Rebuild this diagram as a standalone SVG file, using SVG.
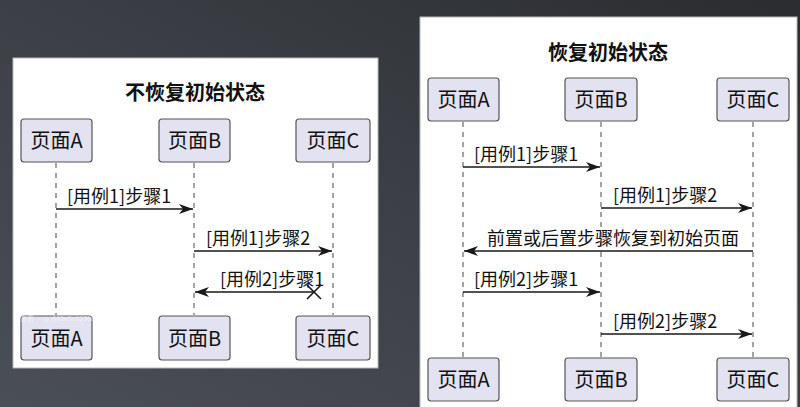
<svg xmlns="http://www.w3.org/2000/svg" width="800" height="407" viewBox="0 0 800 407">
<defs>
<linearGradient id="bg" x1="0" y1="1" x2="1" y2="0">
<stop offset="0" stop-color="#4a4e55"/>
<stop offset="0.5" stop-color="#3c4046"/>
<stop offset="1" stop-color="#2a2c2f"/>
</linearGradient>
<marker id="ah" viewBox="0 0 14 10" refX="14" refY="5" markerWidth="14" markerHeight="10" markerUnits="userSpaceOnUse" orient="auto-start-reverse">
<path d="M0,0 L14,5 L0,10 L4,5 Z" fill="#181818"/>
</marker>
<style>
.panel{fill:#ffffff;stroke:#b8b8b8;stroke-width:1}
.box{fill:#e2e2f0;stroke:#555;stroke-width:1.2}
.pt{font-family:"Noto Sans CJK SC","Noto Sans",sans-serif;font-size:20px;fill:#111;text-anchor:middle}
.title{font-family:"Noto Sans CJK SC","Noto Sans",sans-serif;font-size:20px;font-weight:bold;fill:#111;text-anchor:middle}
.lbl{font-family:"Noto Sans CJK SC","Noto Sans",sans-serif;font-size:18px;fill:#111}
.life{stroke:#666;stroke-width:1.2;stroke-dasharray:5,5;fill:none}
.msg{stroke:#181818;stroke-width:1.6;fill:none}
.wm{font-family:"Noto Sans CJK SC","Noto Sans",sans-serif;font-size:7px;fill:#ffffff;opacity:0.55}
</style>
</defs>
<rect x="0" y="0" width="800" height="407" fill="url(#bg)"/>

<!-- Left panel -->
<g id="left-panel">
<rect class="panel" x="13" y="58" width="365" height="310"/>
<text class="title" x="195" y="100">不恢复初始状态</text>
</g>
<g id="left-lifelines">
<line class="life" x1="56" y1="163" x2="56" y2="315"/>
<line class="life" x1="194" y1="163" x2="194" y2="315"/>
<line class="life" x1="333" y1="163" x2="333" y2="315"/>
</g>
<g id="L-A-top"><rect class="box" x="21" y="119" width="71" height="43" rx="3"/><text class="pt" x="56.5" y="148">页面A</text></g>
<g id="L-B-top"><rect class="box" x="159" y="119" width="71" height="43" rx="3"/><text class="pt" x="194.5" y="148">页面B</text></g>
<g id="L-C-top"><rect class="box" x="296" y="119" width="74" height="43" rx="3"/><text class="pt" x="333" y="148">页面C</text></g>
<g id="L-A-bot"><rect class="box" x="21" y="316" width="71" height="44" rx="3"/><text class="pt" x="56.5" y="346">页面A</text></g>
<g id="L-B-bot"><rect class="box" x="159" y="316" width="71" height="44" rx="3"/><text class="pt" x="194.5" y="346">页面B</text></g>
<g id="L-C-bot"><rect class="box" x="296" y="316" width="74" height="44" rx="3"/><text class="pt" x="333" y="346">页面C</text></g>
<g id="left-connectors">
<line class="msg" x1="56" y1="209" x2="193" y2="209" marker-end="url(#ah)"/>
<text class="lbl" x="67" y="203">[用例1]步骤1</text>
<line class="msg" x1="194" y1="251" x2="332" y2="251" marker-end="url(#ah)"/>
<text class="lbl" x="206" y="245">[用例1]步骤2</text>
<line class="msg" x1="314" y1="292" x2="195" y2="292" marker-end="url(#ah)"/>
<path class="msg" d="M307,285 L321,299 M321,285 L307,299" stroke-width="2.8"/>
<text class="lbl" x="220" y="286">[用例2]步骤1</text>
</g>
<text class="wm" x="20" y="321">查看 · u_648e9c023068</text>

<!-- Right panel -->
<g id="right-panel">
<rect class="panel" x="420" y="17" width="377" height="395"/>
<text class="title" x="608" y="60">恢复初始状态</text>
</g>
<g id="right-lifelines">
<line class="life" x1="463" y1="122" x2="463" y2="357"/>
<line class="life" x1="601" y1="122" x2="601" y2="357"/>
<line class="life" x1="753" y1="122" x2="753" y2="357"/>
</g>
<g id="R-A-top"><rect class="box" x="428" y="78" width="71" height="43" rx="3"/><text class="pt" x="463.5" y="107">页面A</text></g>
<g id="R-B-top"><rect class="box" x="565" y="78" width="72" height="43" rx="3"/><text class="pt" x="601" y="107">页面B</text></g>
<g id="R-C-top"><rect class="box" x="717" y="78" width="72" height="43" rx="3"/><text class="pt" x="753" y="107">页面C</text></g>
<g id="R-A-bot"><rect class="box" x="428" y="358" width="71" height="43" rx="3"/><text class="pt" x="463.5" y="387">页面A</text></g>
<g id="R-B-bot"><rect class="box" x="565" y="358" width="72" height="43" rx="3"/><text class="pt" x="601" y="387">页面B</text></g>
<g id="R-C-bot"><rect class="box" x="717" y="358" width="72" height="43" rx="3"/><text class="pt" x="753" y="387">页面C</text></g>
<g id="right-connectors">
<line class="msg" x1="463" y1="167" x2="600" y2="167" marker-end="url(#ah)"/>
<text class="lbl" x="474" y="161">[用例1]步骤1</text>
<line class="msg" x1="601" y1="208" x2="752" y2="208" marker-end="url(#ah)"/>
<text class="lbl" x="613" y="202">[用例1]步骤2</text>
<line class="msg" x1="753" y1="251" x2="464" y2="251" marker-end="url(#ah)"/>
<text class="lbl" x="487" y="245">前置或后置步骤恢复到初始页面</text>
<line class="msg" x1="463" y1="292" x2="600" y2="292" marker-end="url(#ah)"/>
<text class="lbl" x="474" y="286">[用例2]步骤1</text>
<line class="msg" x1="601" y1="334" x2="752" y2="334" marker-end="url(#ah)"/>
<text class="lbl" x="613" y="328">[用例2]步骤2</text>
</g>
</svg>
